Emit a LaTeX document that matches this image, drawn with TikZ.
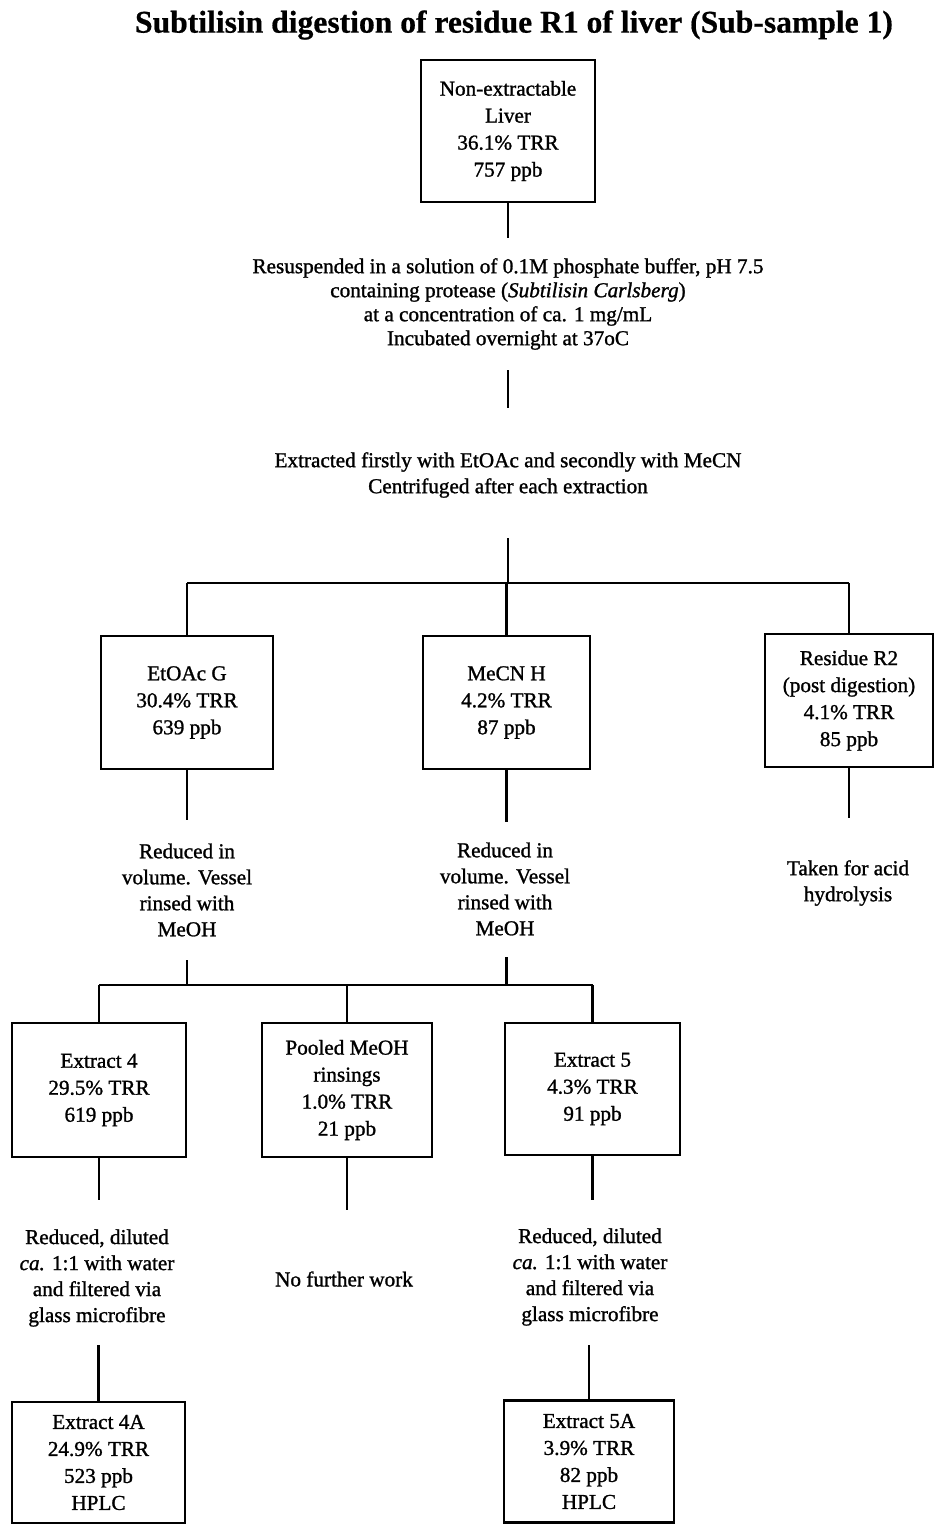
\documentclass[tikz,border=0pt]{standalone}
\usepackage{fontspec}
\setmainfont{Liberation Serif}[FakeBold=1.2]
\newfontfamily\titlefont{Liberation Serif}[FakeBold=0.6]
\begin{document}
\begin{tikzpicture}[x=0.5pt,y=-0.5pt,
  every path/.style={line width=1pt},
  box/.style={draw, line width=1.1pt, inner sep=0pt, align=center,
    font=\fontsize{10.6}{13.5}\selectfont},
  note/.style={inner sep=0pt, align=center, font=\fontsize{10.6}{13}\selectfont},
  wire/.style={line width=1.1pt}]
\useasboundingbox (0,0) rectangle (934,1526);

% title
\node[inner sep=0pt, font=\titlefont\fontsize{15.8}{18}\selectfont\bfseries] (title) at (514,25)
  {Subtilisin digestion of residue R1 of liver (Sub-sample 1)};

% starting material
\node[box, minimum width=87pt, minimum height=71pt] (liver) at (508,131)
  {Non-extractable\\Liver\\36.1\% TRR\\757 ppb};

\node[note, font=\fontsize{10.6}{12}\selectfont] (digest) at (508,304)
  {Resuspended in a solution of 0.1M phosphate buffer, pH 7.5\\
   containing protease (\textit{Subtilisin Carlsberg})\\
   at a concentration of ca. 1 mg/mL\\
   Incubated overnight at 37oC};

\node[note, font=\fontsize{10.6}{13}\selectfont] (extract) at (508,475)
  {Extracted firstly with EtOAc and secondly with MeCN\\
   Centrifuged after each extraction};

% first split
\node[box, minimum width=86pt, minimum height=66.5pt] (etoac) at (187,702.5)
  {EtOAc G\\30.4\% TRR\\639 ppb};
\node[box, minimum width=83.5pt, minimum height=66.5pt] (mecn) at (506.5,702.5)
  {MeCN H\\4.2\% TRR\\87 ppb};
\node[box, minimum width=84pt, minimum height=66.5pt] (resid) at (849,700.5)
  {Residue R2\\(post digestion)\\4.1\% TRR\\85 ppb};

\node[note] (redL) at (187,890) {Reduced in\\volume. Vessel\\rinsed with\\MeOH};
\node[note] (redM) at (505,889) {Reduced in\\volume. Vessel\\rinsed with\\MeOH};
\node[note] (acid) at (848,883) {Taken for acid\\hydrolysis};

% second split
\node[box, minimum width=87pt, minimum height=67pt] (ex4) at (99,1090)
  {Extract 4\\29.5\% TRR\\619 ppb};
\node[box, minimum width=85pt, minimum height=67pt] (pool) at (347,1090)
  {Pooled MeOH\\rinsings\\1.0\% TRR\\21 ppb};
\node[box, minimum width=87.5pt, minimum height=66pt] (ex5) at (592.5,1089)
  {Extract 5\\4.3\% TRR\\91 ppb};

\node[note] (dilL) at (97,1278)
  {Reduced, diluted\\\textit{ca.} 1:1 with water\\and filtered via\\glass microfibre};
\node[note] (nofw) at (344,1279) {No further work};
\node[note] (dilR) at (590,1277)
  {Reduced, diluted\\\textit{ca.} 1:1 with water\\and filtered via\\glass microfibre};

\node[box, minimum width=86.5pt, minimum height=60.5pt] (ex4a) at (98.5,1462.5)
  {Extract 4A\\24.9\% TRR\\523 ppb\\HPLC};
\node[box, minimum width=85pt, minimum height=61pt] (ex5a) at (589,1461.5)
  {Extract 5A\\3.9\% TRR\\82 ppb\\HPLC};

% connector ends
\coordinate (s1) at (508,238);
\coordinate (s2a) at (508,370);
\coordinate (s2b) at (508,408);
\coordinate (s3) at (508,538);
\coordinate (busC) at (508,583);
\coordinate (busL) at (187,583);
\coordinate (busR) at (849,583);
\coordinate (busM) at (506.5,583);

\coordinate (eL) at (187,820);
\coordinate (eM) at (506.5,822);
\coordinate (eR) at (849,818);

\coordinate (fL) at (187,960);
\coordinate (fM) at (506.5,957);
\coordinate (bus2L) at (99,985);
\coordinate (bus2R) at (592.5,985);
\coordinate (bus2a) at (187,985);
\coordinate (bus2b) at (506.5,985);
\coordinate (bus2M) at (347,985);

\coordinate (gL) at (99,1200);
\coordinate (gM) at (347,1210);
\coordinate (gR) at (592.5,1200);

\coordinate (hL) at (98.5,1345);
\coordinate (hR) at (589,1345);

% connectors
\draw[wire] (liver.south) -- (s1);
\draw[wire] (s2a) -- (s2b);
\draw[wire] (s3) -- (busC);
\draw[wire] (busL) -- (busR);
\draw[wire] (busL) -- (etoac.north);
\draw[wire] (busM) -- (mecn.north);
\draw[wire] (busR) -- (resid.north);

\draw[wire] (etoac.south) -- (eL);
\draw[wire] (mecn.south) -- (eM);
\draw[wire] (resid.south) -- (eR);

\draw[wire] (fL) -- (bus2a);
\draw[wire] (fM) -- (bus2b);
\draw[wire] (bus2L) -- (bus2R);
\draw[wire] (bus2L) -- (ex4.north);
\draw[wire] (bus2M) -- (pool.north);
\draw[wire] (bus2R) -- (ex5.north);

\draw[wire] (ex4.south) -- (gL);
\draw[wire] (pool.south) -- (gM);
\draw[wire] (ex5.south) -- (gR);

\draw[wire] (hL) -- (ex4a.north);
\draw[wire] (hR) -- (ex5a.north);
\end{tikzpicture}
\end{document}
